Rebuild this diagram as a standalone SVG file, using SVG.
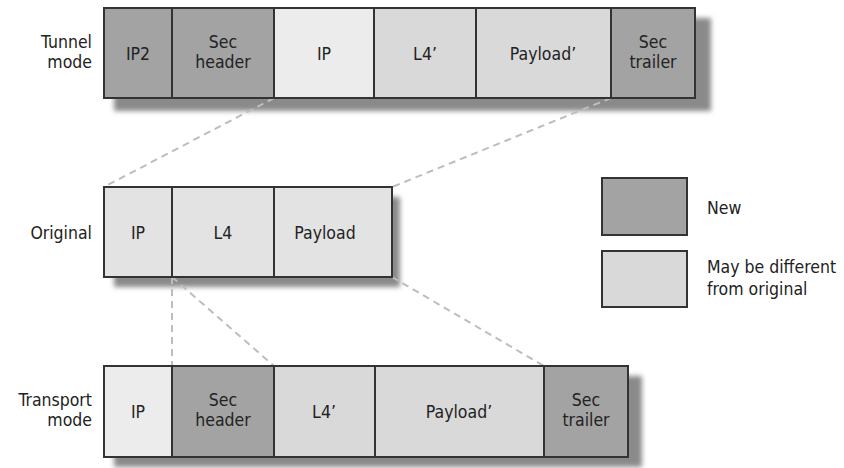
<svg xmlns="http://www.w3.org/2000/svg" width="844" height="468" viewBox="0 0 844 468">
<defs>
<filter id="blur" x="-10%" y="-20%" width="120%" height="140%"><feGaussianBlur stdDeviation="2.5"/></filter>
</defs>
<style>
.dark{fill:#a3a3a3;stroke:#333;stroke-width:2}
.light{fill:#d9d9d9;stroke:#333;stroke-width:2}
.pale{fill:#ececec;stroke:#333;stroke-width:2}
.orig{fill:#e3e3e3;stroke:#333;stroke-width:2}
.shadow{fill:#8a8a8a;filter:url(#blur)}
text{font-family:"DejaVu Sans Condensed","Liberation Sans Narrow","Liberation Sans",sans-serif;font-size:17.5px;fill:#222;text-anchor:middle}
.lbl{text-anchor:end}
.leg{text-anchor:start}
.dash{stroke:#bdbdbd;stroke-width:2;stroke-dasharray:7,5;fill:none}
</style>
<rect class="shadow" x="114" y="18" width="597" height="93"/>
<rect class="shadow" x="114" y="197" width="286" height="90"/>
<rect class="shadow" x="114" y="376" width="528" height="91"/>
<g id="connectors">
<line class="dash" x1="274" y1="98" x2="104" y2="187"/>
<line class="dash" x1="611" y1="98" x2="392" y2="187"/>
<line class="dash" x1="172" y1="277" x2="172" y2="366"/>
<line class="dash" x1="172" y1="277" x2="274" y2="366"/>
<line class="dash" x1="392" y1="277" x2="544" y2="366"/>
</g>
<g id="tunnel">
<text class="lbl" x="92" y="48">Tunnel</text>
<text class="lbl" x="92" y="68">mode</text>
<g id="t-ip2"><rect class="dark" x="104" y="8" width="68" height="90"/><text x="138" y="60">IP2</text></g>
<g id="t-sech"><rect class="dark" x="172" y="8" width="102" height="90"/><text x="223" y="48">Sec</text><text x="223" y="68">header</text></g>
<g id="t-ip"><rect class="pale" x="274" y="8" width="100" height="90"/><text x="324" y="60">IP</text></g>
<g id="t-l4"><rect class="light" x="374" y="8" width="102" height="90"/><text x="425" y="60">L4’</text></g>
<g id="t-pay"><rect class="light" x="476" y="8" width="135" height="90"/><text x="543" y="60">Payload’</text></g>
<g id="t-sect"><rect class="dark" x="611" y="8" width="84" height="90"/><text x="653" y="48">Sec</text><text x="653" y="68">trailer</text></g>
</g>
<g id="original">
<text class="lbl" x="92" y="239">Original</text>
<g id="o-ip"><rect class="orig" x="104" y="187" width="68" height="90"/><text x="138" y="239">IP</text></g>
<g id="o-l4"><rect class="orig" x="172" y="187" width="102" height="90"/><text x="223" y="239">L4</text></g>
<g id="o-pay"><rect class="orig" x="274" y="187" width="118" height="90"/><text x="325" y="239">Payload</text></g>
</g>
<g id="transport">
<text class="lbl" x="92" y="406">Transport</text>
<text class="lbl" x="92" y="426">mode</text>
<g id="p-ip"><rect class="pale" x="104" y="366" width="68" height="91"/><text x="138" y="418">IP</text></g>
<g id="p-sech"><rect class="dark" x="172" y="366" width="102" height="91"/><text x="223" y="406">Sec</text><text x="223" y="426">header</text></g>
<g id="p-l4"><rect class="light" x="274" y="366" width="101" height="91"/><text x="324" y="418">L4’</text></g>
<g id="p-pay"><rect class="light" x="375" y="366" width="169" height="91"/><text x="459" y="418">Payload’</text></g>
<g id="p-sect"><rect class="dark" x="544" y="366" width="84" height="91"/><text x="586" y="406">Sec</text><text x="586" y="426">trailer</text></g>
</g>
<g id="legend-new"><rect class="dark" x="602" y="178" width="85" height="57"/><text class="leg" x="707" y="214">New</text></g>
<g id="legend-diff"><rect class="light" x="602" y="251" width="85" height="56"/><text class="leg" x="707" y="273">May be different</text><text class="leg" x="707" y="295">from original</text></g>
</svg>
